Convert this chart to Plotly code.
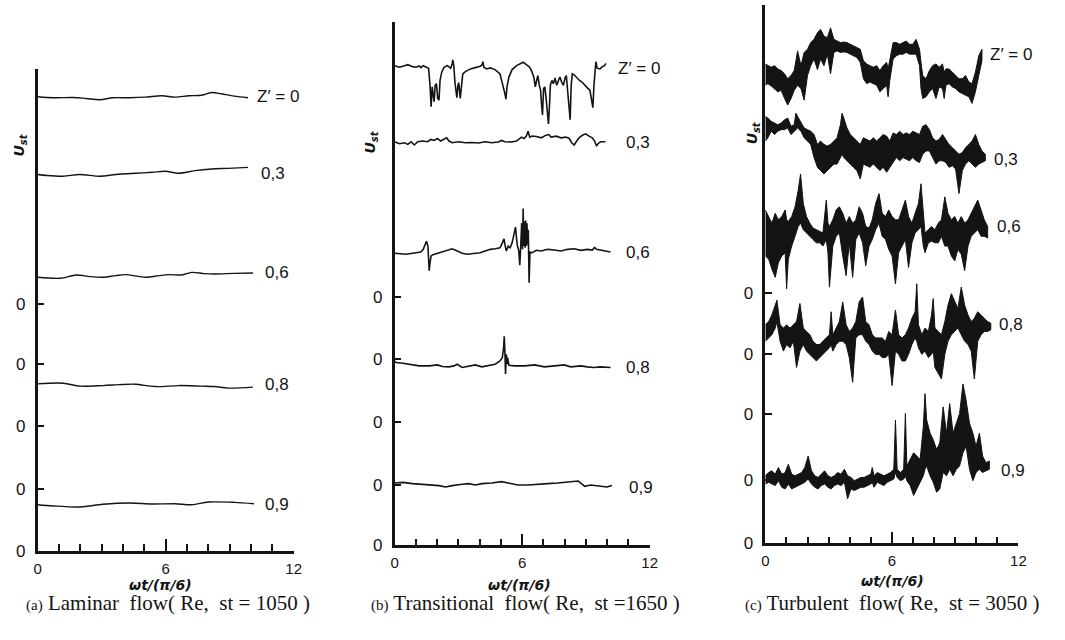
import plotly.graph_objects as go

W, H = 1065, 640

# ---------------- (a) laminar flow : thin traces ----------------
A_Z0_X = [0.00, 0.74, 1.67, 2.27, 2.92, 3.52, 4.30, 5.05, 5.83, 6.44, 7.08, 7.69, 8.15, 8.61, 9.21, 9.86]
A_Z0_Y = [46.17, 46.07, 46.10, 46.00, 45.87, 46.07, 46.07, 46.13, 46.27, 46.13, 46.27, 46.33, 46.60, 46.47, 46.23, 46.07]
A_03_X = [0.00, 0.43, 1.20, 1.97, 2.90, 3.67, 4.60, 5.37, 5.99, 6.60, 7.38, 8.15, 8.92, 9.86]
A_03_Y = [38.27, 38.17, 38.10, 38.27, 38.10, 38.27, 38.40, 38.50, 38.60, 38.40, 38.67, 38.83, 38.90, 39.00]
A_06_X = [0.00, 1.06, 1.81, 2.45, 3.06, 3.66, 4.12, 5.05, 5.69, 6.16, 6.76, 7.22, 7.82, 8.29, 9.21, 10.09]
A_06_Y = [27.83, 27.73, 28.07, 27.90, 27.83, 28.00, 28.10, 27.83, 28.00, 28.10, 28.07, 28.33, 28.20, 28.17, 28.23, 28.27]
A_08_X = [0.00, 1.20, 1.99, 3.06, 3.84, 4.58, 5.51, 6.62, 7.69, 8.29, 8.94, 10.09]
A_08_Y = [17.00, 17.07, 16.77, 16.83, 16.93, 16.97, 16.73, 16.83, 16.77, 16.73, 16.57, 16.67]
A_09_X = [0.00, 0.74, 1.99, 3.06, 4.31, 5.37, 6.44, 7.22, 8.01, 9.21, 10.14]
A_09_Y = [4.73, 4.60, 4.50, 4.77, 4.90, 4.80, 4.83, 4.73, 5.00, 4.97, 4.83]

# ---------------- (b) transitional flow ----------------
B_Z0_X = [0.00, 0.23, 0.47, 0.62, 0.85, 1.01, 1.16, 1.24, 1.35, 1.47, 1.60, 1.67, 1.72, 1.77, 1.81, 1.86,
          1.91, 1.97, 2.03, 2.09, 2.14, 2.22, 2.33, 2.48, 2.64, 2.71, 2.74, 2.79, 2.84, 2.88, 2.93, 2.98,
          3.02, 3.09, 3.15, 3.21, 3.33, 3.57, 3.80, 4.03, 4.11, 4.16, 4.20, 4.34, 4.50, 4.73, 4.96, 5.09,
          5.19, 5.24, 5.29, 5.38, 5.53, 5.74, 5.89, 6.05, 6.20, 6.36, 6.47, 6.56, 6.62, 6.68, 6.74, 6.81,
          6.87, 6.91, 6.96, 7.01, 7.07, 7.13, 7.18, 7.24, 7.29, 7.33, 7.40, 7.47, 7.55, 7.63, 7.71, 7.78,
          7.86, 7.94, 8.02, 8.08, 8.14, 8.20, 8.26, 8.31, 8.36, 8.45, 8.57, 8.70, 8.82, 8.95, 9.07, 9.19,
          9.27, 9.33, 9.38, 9.43, 9.47, 9.53, 9.66, 9.78, 9.88, 9.94]
B_Z0_Y = [48.73, 48.57, 48.73, 48.83, 48.63, 48.57, 48.70, 48.53, 48.73, 48.57, 48.47, 46.73, 44.57, 46.57, 45.90, 45.07,
          46.73, 46.90, 45.40, 45.23, 47.23, 48.07, 48.57, 48.73, 48.47, 48.90, 49.33, 48.67, 47.07, 46.23, 45.47, 46.73,
          47.00, 45.40, 46.73, 47.90, 48.13, 48.40, 48.53, 48.67, 48.80, 49.13, 48.57, 48.40, 48.50, 48.33, 47.90, 46.90,
          45.90, 45.33, 46.57, 47.57, 48.33, 48.73, 48.90, 49.07, 48.83, 48.57, 48.07, 47.47, 46.57, 47.23, 47.73, 46.73,
          46.23, 44.90, 43.73, 46.40, 46.57, 45.40, 44.07, 42.80, 44.73, 46.73, 47.23, 46.90, 47.47, 46.73, 47.23, 47.57,
          47.07, 46.73, 47.47, 47.73, 46.23, 44.73, 43.23, 46.73, 47.90, 47.80, 47.47, 47.23, 47.07, 46.73, 46.47, 46.23,
          45.40, 44.47, 46.73, 48.40, 49.13, 48.47, 48.40, 48.63, 48.73, 48.97]
B_03_X = [0.00, 0.23, 0.47, 0.62, 0.78, 0.93, 1.09, 1.32, 1.55, 1.71, 1.86, 2.02, 2.17, 2.33, 2.45, 2.56,
          2.71, 3.02, 3.33, 3.64, 3.95, 4.26, 4.57, 4.88, 5.04, 5.19, 5.50, 5.74, 5.84, 5.97, 6.09, 6.20,
          6.28, 6.36, 6.47, 6.67, 6.90, 7.13, 7.26, 7.36, 7.60, 7.83, 8.06, 8.22, 8.33, 8.45, 8.57, 8.68,
          8.84, 8.99, 9.15, 9.30, 9.41, 9.50, 9.57, 9.69, 9.92]
B_03_Y = [41.00, 40.80, 40.90, 40.73, 41.00, 40.67, 41.00, 41.07, 41.00, 41.23, 41.13, 41.33, 41.07, 41.23, 41.40, 41.07,
          40.90, 41.00, 40.90, 40.93, 40.87, 41.00, 40.90, 40.97, 41.13, 41.00, 40.97, 41.07, 41.23, 41.47, 41.33, 41.57,
          42.07, 41.47, 41.57, 41.53, 41.40, 41.67, 41.73, 41.47, 41.57, 41.40, 41.47, 41.33, 40.90, 40.67, 41.07, 41.40,
          41.67, 41.80, 41.57, 41.40, 41.07, 40.57, 40.80, 41.00, 41.00]
B_06_X = [0.00, 0.23, 0.54, 0.85, 1.09, 1.24, 1.35, 1.44, 1.50, 1.57, 1.60, 1.63, 1.67, 1.72, 1.81, 2.02,
          2.25, 2.48, 2.71, 2.95, 3.18, 3.41, 3.72, 4.03, 4.26, 4.50, 4.73, 4.96, 5.07, 5.15, 5.19, 5.26,
          5.35, 5.44, 5.53, 5.61, 5.69, 5.74, 5.78, 5.84, 5.89, 5.94, 5.98, 6.02, 6.05, 6.08, 6.11, 6.14,
          6.17, 6.20, 6.23, 6.26, 6.29, 6.33, 6.37, 6.47, 6.67, 6.90, 7.21, 7.52, 7.83, 8.14, 8.45, 8.76,
          9.07, 9.30, 9.41, 9.50, 9.69, 9.92, 10.16]
B_06_Y = [29.67, 29.63, 29.57, 29.67, 29.73, 29.80, 30.07, 30.57, 30.90, 30.40, 29.23, 27.90, 28.73, 29.40, 29.53, 29.67,
          29.90, 30.00, 30.13, 29.90, 29.67, 29.57, 29.67, 29.73, 29.90, 30.07, 30.13, 30.23, 30.73, 31.13, 30.57, 29.90,
          30.40, 30.23, 30.73, 31.40, 32.33, 31.13, 30.40, 30.00, 28.47, 30.57, 32.73, 30.07, 34.23, 30.40, 32.90, 30.23,
          33.00, 30.40, 32.73, 30.57, 32.07, 26.67, 29.80, 29.73, 29.97, 29.90, 30.07, 30.00, 29.90, 30.07, 30.13, 29.97,
          30.07, 30.00, 30.27, 30.07, 30.00, 29.90, 29.80]
B_08_X = [0.00, 0.08, 0.39, 0.78, 1.16, 1.63, 2.02, 2.25, 2.56, 2.79, 2.95, 3.18, 3.49, 3.80, 4.11, 4.42,
          4.73, 4.96, 5.07, 5.13, 5.16, 5.19, 5.22, 5.26, 5.29, 5.32, 5.38, 5.66, 6.12, 6.59, 7.05, 7.52,
          7.98, 8.29, 8.76, 9.07, 9.38, 9.69, 10.16]
B_08_Y = [18.73, 18.57, 18.50, 18.40, 18.23, 18.23, 18.33, 18.17, 18.13, 18.23, 18.40, 18.07, 18.23, 18.33, 18.13, 18.23,
          18.40, 18.73, 19.07, 20.07, 21.23, 19.73, 17.40, 19.40, 18.40, 19.07, 18.30, 18.23, 18.23, 18.33, 18.13, 18.23,
          18.33, 18.13, 18.23, 18.13, 18.07, 18.13, 18.07]
B_09_X = [0.00, 0.39, 0.85, 1.32, 1.78, 2.09, 2.40, 2.71, 3.18, 3.49, 3.80, 4.11, 4.57, 5.04, 5.35, 5.81,
          6.28, 6.74, 7.21, 7.67, 8.14, 8.45, 8.64, 8.76, 8.95, 9.22, 9.69, 10.00, 10.23]
B_09_Y = [6.33, 6.40, 6.27, 6.20, 6.13, 6.07, 5.93, 6.07, 6.20, 6.27, 6.13, 6.27, 6.33, 6.47, 6.33, 6.13,
          6.13, 6.23, 6.27, 6.33, 6.40, 6.47, 6.53, 6.33, 6.00, 6.13, 6.00, 5.93, 6.07]

# ---------------- (c) turbulent flow : upper / lower envelopes of the dark band ----------------
C_Z0_X = [0.00, 0.12, 0.28, 0.44, 0.59, 0.75, 0.91, 1.06, 1.22, 1.37, 1.53, 1.69, 1.84, 2.00, 2.15, 2.31,
          2.47, 2.62, 2.78, 2.94, 3.09, 3.25, 3.40, 3.56, 3.72, 3.87, 4.03, 4.18, 4.34, 4.50, 4.65, 4.81,
          4.96, 5.12, 5.28, 5.43, 5.59, 5.75, 5.82, 5.90, 6.06, 6.21, 6.37, 6.53, 6.68, 6.84, 6.99, 7.15,
          7.31, 7.38, 7.46, 7.62, 7.78, 7.93, 8.09, 8.24, 8.40, 8.48, 8.56, 8.71, 8.87, 9.02, 9.18, 9.34,
          9.49, 9.65, 9.80, 9.96, 10.12, 10.27]
C_Z0_HI = [48.70, 48.53, 48.37, 48.53, 48.20, 48.03, 47.70, 47.20, 47.53, 48.03, 50.03, 48.53, 49.87, 50.20, 50.87, 51.20,
           51.87, 52.20, 51.53, 51.37, 52.37, 51.20, 51.03, 50.87, 50.93, 50.87, 50.70, 50.53, 50.37, 50.20, 49.03, 48.70,
           48.53, 48.37, 48.53, 48.03, 48.53, 48.87, 48.20, 49.20, 50.87, 50.87, 50.70, 50.87, 51.03, 50.70, 50.70, 51.20,
           50.20, 48.87, 47.53, 47.20, 48.03, 48.53, 48.70, 48.37, 48.70, 47.87, 48.20, 48.20, 47.87, 47.53, 47.20, 47.20,
           47.53, 46.87, 46.70, 47.87, 49.53, 50.20]
C_Z0_LO = [46.53, 46.70, 46.47, 46.20, 45.87, 46.03, 45.20, 44.53, 45.20, 46.03, 46.53, 46.20, 45.03, 47.53, 48.53, 49.20,
           48.13, 49.20, 48.53, 49.70, 47.70, 49.87, 50.03, 49.87, 49.93, 49.87, 49.70, 49.53, 49.37, 48.87, 47.20, 46.70,
           46.87, 46.70, 46.53, 45.87, 46.20, 46.53, 45.37, 47.03, 49.20, 49.53, 49.70, 49.70, 49.87, 49.70, 49.70, 49.70,
           48.53, 46.20, 45.20, 45.37, 45.87, 46.20, 45.20, 46.37, 46.20, 45.20, 46.53, 46.70, 46.37, 46.20, 45.87, 45.70,
           45.53, 45.37, 44.70, 45.87, 47.53, 49.03]

C_03_X = [0.00, 0.12, 0.28, 0.44, 0.59, 0.75, 0.91, 1.06, 1.22, 1.37, 1.45, 1.53, 1.69, 1.84, 2.00, 2.15,
          2.31, 2.47, 2.62, 2.78, 2.94, 3.09, 3.25, 3.40, 3.56, 3.64, 3.72, 3.87, 4.03, 4.18, 4.34, 4.50,
          4.65, 4.81, 4.96, 5.12, 5.28, 5.43, 5.59, 5.75, 5.90, 6.06, 6.21, 6.37, 6.53, 6.68, 6.84, 6.99,
          7.15, 7.31, 7.46, 7.62, 7.78, 7.93, 8.09, 8.24, 8.40, 8.56, 8.71, 8.87, 9.02, 9.18, 9.34, 9.49,
          9.65, 9.80, 9.96, 10.12, 10.27, 10.43]
C_03_HI = [43.37, 43.20, 42.87, 42.70, 42.53, 42.70, 43.03, 43.20, 42.37, 42.53, 43.70, 43.37, 42.70, 42.20, 42.03, 41.87,
           41.53, 40.53, 40.87, 40.53, 40.37, 40.53, 40.87, 41.20, 42.53, 43.70, 43.20, 42.20, 41.53, 41.20, 40.87, 40.53,
           41.20, 41.03, 40.87, 41.20, 40.87, 41.20, 41.53, 41.37, 40.87, 41.70, 41.53, 41.87, 41.53, 41.70, 41.53, 41.87,
           41.70, 41.53, 42.37, 42.53, 42.03, 41.20, 40.87, 41.03, 41.53, 41.03, 40.53, 40.20, 39.87, 39.53, 39.70, 40.20,
           40.53, 40.87, 41.53, 40.53, 39.87, 39.53]
C_03_LO = [40.87, 41.20, 41.87, 41.53, 41.87, 42.03, 42.03, 42.20, 41.53, 41.87, 42.03, 42.20, 41.87, 41.20, 40.87, 40.53,
           39.20, 38.20, 37.87, 37.53, 37.87, 38.20, 38.53, 38.53, 39.20, 39.53, 39.20, 38.87, 38.53, 38.20, 37.87, 37.03,
           38.53, 38.37, 38.20, 38.53, 38.20, 37.87, 38.20, 37.70, 38.20, 38.70, 39.20, 38.87, 39.20, 39.03, 38.87, 39.20,
           38.87, 38.70, 39.53, 39.87, 39.87, 39.20, 38.53, 38.87, 38.87, 38.70, 38.20, 38.37, 38.03, 35.53, 37.87, 38.53,
           38.87, 38.53, 38.20, 38.53, 38.70, 38.87]

C_06_X = [0.00, 0.16, 0.31, 0.47, 0.62, 0.78, 0.94, 1.01, 1.09, 1.25, 1.41, 1.56, 1.67, 1.80, 1.95, 2.11,
          2.26, 2.42, 2.58, 2.73, 2.89, 2.97, 3.04, 3.20, 3.36, 3.51, 3.67, 3.83, 3.98, 4.14, 4.29, 4.45,
          4.61, 4.76, 4.92, 5.07, 5.23, 5.39, 5.54, 5.70, 5.85, 6.01, 6.17, 6.32, 6.48, 6.64, 6.79, 6.95,
          7.10, 7.26, 7.38, 7.49, 7.57, 7.73, 7.88, 8.04, 8.20, 8.35, 8.51, 8.66, 8.82, 8.98, 9.13, 9.29,
          9.45, 9.61, 9.76, 9.91, 10.07, 10.23, 10.38, 10.54]
C_06_HI = [33.87, 33.20, 32.53, 33.53, 32.87, 33.20, 33.87, 32.87, 32.70, 33.20, 34.20, 35.87, 37.53, 34.53, 33.20, 32.53,
           32.03, 31.87, 31.70, 31.53, 34.87, 32.53, 32.20, 32.87, 33.87, 34.20, 33.53, 32.53, 33.20, 32.53, 32.87, 34.20,
           33.53, 32.20, 32.03, 32.87, 34.53, 35.53, 33.53, 33.20, 33.87, 33.20, 32.87, 32.87, 33.87, 34.87, 33.20, 32.53,
           33.53, 34.53, 36.53, 33.20, 31.53, 31.87, 32.20, 31.87, 32.53, 32.87, 35.20, 33.53, 32.87, 33.20, 32.53, 33.20,
           32.53, 32.87, 33.53, 34.20, 34.87, 33.87, 32.87, 32.20]
C_06_LO = [29.20, 28.87, 27.87, 27.03, 28.53, 29.20, 29.53, 25.87, 28.87, 30.20, 31.20, 32.20, 32.53, 31.87, 31.53, 31.20,
           30.87, 30.53, 30.53, 30.20, 30.87, 29.53, 26.03, 30.20, 31.20, 31.53, 29.20, 27.20, 30.53, 27.03, 30.87, 31.53,
           30.53, 28.20, 30.20, 30.87, 31.87, 32.53, 31.20, 30.87, 29.87, 29.20, 26.37, 29.53, 30.20, 30.87, 28.03, 30.53,
           31.53, 31.87, 32.20, 30.20, 29.53, 30.53, 30.70, 30.53, 30.53, 31.20, 30.20, 30.20, 29.20, 28.70, 29.87, 29.37,
           27.70, 30.20, 31.20, 31.53, 31.87, 31.20, 31.20, 31.03]

C_08_X = [0.00, 0.16, 0.31, 0.47, 0.55, 0.70, 0.86, 1.01, 1.17, 1.33, 1.48, 1.64, 1.80, 1.95, 2.11, 2.26,
          2.42, 2.58, 2.73, 2.89, 3.04, 3.12, 3.20, 3.36, 3.51, 3.67, 3.83, 3.98, 4.14, 4.29, 4.45, 4.61,
          4.76, 4.92, 5.07, 5.23, 5.39, 5.54, 5.70, 5.85, 6.01, 6.17, 6.32, 6.48, 6.64, 6.79, 6.95, 7.10,
          7.18, 7.26, 7.42, 7.57, 7.73, 7.88, 7.96, 8.04, 8.20, 8.35, 8.51, 8.66, 8.82, 8.98, 9.13, 9.29,
          9.45, 9.61, 9.76, 9.91, 10.07, 10.23, 10.38, 10.54, 10.69]
C_08_HI = [22.20, 22.53, 23.20, 24.20, 24.70, 22.20, 21.87, 22.20, 21.87, 22.20, 22.53, 24.37, 21.87, 21.53, 21.20, 20.53,
           20.20, 20.20, 20.53, 20.87, 21.20, 23.53, 21.20, 21.87, 22.53, 24.53, 22.20, 21.53, 21.87, 22.53, 24.53, 25.03,
           22.53, 22.20, 21.20, 20.87, 20.87, 20.87, 20.53, 21.53, 21.20, 23.70, 21.20, 20.87, 21.20, 21.87, 22.87, 23.53,
           26.37, 22.20, 21.20, 21.87, 21.53, 23.20, 24.87, 21.87, 21.53, 21.20, 22.53, 24.20, 25.37, 24.53, 23.87, 26.03,
           24.20, 23.20, 22.53, 22.87, 23.53, 23.20, 22.87, 22.53, 22.37]
C_08_LO = [20.53, 20.87, 21.20, 21.87, 22.53, 20.53, 19.53, 20.20, 19.87, 20.53, 17.87, 19.53, 20.20, 19.53, 19.20, 18.87,
           18.53, 18.87, 19.20, 19.53, 19.87, 20.20, 19.53, 20.20, 20.53, 20.53, 20.20, 18.87, 16.37, 20.87, 21.20, 21.20,
           20.53, 20.20, 19.53, 19.20, 19.20, 18.87, 18.87, 19.20, 16.03, 19.53, 19.20, 18.53, 18.53, 19.20, 20.20, 20.87,
           20.53, 19.87, 19.20, 19.53, 18.87, 19.20, 19.53, 17.87, 17.20, 16.70, 19.20, 20.53, 21.20, 21.53, 21.87, 21.20,
           20.53, 20.20, 19.53, 16.70, 20.53, 21.20, 21.53, 21.53, 21.70]

C_09_X = [0.00, 0.16, 0.31, 0.47, 0.62, 0.78, 0.94, 1.09, 1.25, 1.41, 1.56, 1.72, 1.87, 2.03, 2.19, 2.34,
          2.50, 2.65, 2.81, 2.97, 3.12, 3.28, 3.43, 3.59, 3.75, 3.90, 4.06, 4.22, 4.37, 4.53, 4.68, 4.84,
          5.00, 5.07, 5.15, 5.31, 5.46, 5.62, 5.78, 5.93, 6.09, 6.17, 6.25, 6.40, 6.56, 6.64, 6.71, 6.87,
          7.03, 7.18, 7.34, 7.49, 7.57, 7.65, 7.81, 7.96, 8.12, 8.27, 8.43, 8.59, 8.74, 8.90, 9.06, 9.21,
          9.37, 9.52, 9.68, 9.84, 9.99, 10.15, 10.30, 10.46, 10.62]
C_09_HI = [6.87, 7.20, 7.37, 7.03, 7.70, 7.03, 7.20, 8.03, 7.03, 6.87, 7.03, 7.20, 7.70, 8.87, 7.37, 6.87,
           6.70, 7.03, 7.37, 6.87, 6.70, 6.87, 7.20, 7.03, 7.53, 6.87, 6.70, 6.37, 6.53, 6.70, 6.70, 6.87,
           7.03, 7.70, 6.87, 7.20, 7.03, 6.87, 7.03, 7.20, 7.53, 12.53, 7.53, 7.20, 7.53, 13.20, 7.87, 8.53,
           9.20, 8.87, 8.53, 11.87, 15.20, 12.53, 11.20, 10.53, 9.53, 10.20, 13.87, 11.20, 14.20, 11.20, 12.20, 13.20,
           16.20, 14.53, 12.20, 11.20, 9.87, 11.20, 8.87, 8.20, 8.37]
C_09_LO = [6.03, 6.20, 6.03, 5.87, 6.37, 5.70, 5.53, 6.03, 5.53, 5.70, 5.87, 6.03, 6.20, 6.53, 6.03, 5.70,
           5.53, 5.87, 6.03, 5.70, 5.53, 5.87, 6.03, 5.87, 6.20, 4.53, 5.53, 5.37, 5.53, 5.70, 5.70, 5.87,
           6.03, 6.20, 5.70, 6.20, 6.03, 5.87, 6.20, 6.37, 6.53, 7.20, 6.70, 6.37, 6.53, 6.87, 6.37, 5.87,
           4.87, 5.53, 6.20, 6.87, 7.53, 7.87, 6.87, 6.20, 5.20, 5.53, 7.20, 6.87, 7.53, 6.87, 7.53, 7.87,
           9.20, 9.87, 7.53, 6.37, 7.20, 7.53, 7.20, 7.37, 7.53]

# ---------------- labels ----------------
SERIES_LABELS = ["Z\u2032 = 0", "0,3", "0,6", "0,8", "0,9"]
X_TICKS = [0, 6, 12]
X_TICK_TEXT = ["0", "6", "12"]
CAPTION_TAGS = ["(a)", "(b)", "(c)"]
CAPTION_TEXTS = [" Laminar  flow( Re,  st = 1050 )",
                 " Transitional  flow( Re,  st =1650 )",
                 " Turbulent  flow( Re,  st = 3050 )"]
A_ZERO_TICKS = [0, 6.3, 12.7, 19.0, 25.1]
B_ZERO_TICKS = [0, 6.13, 12.57, 18.9, 25.23]
C_ZERO_TICKS = [0, 6.4, 13.1, 19.2, 25.4]

INK = "#141414"
fig = go.Figure()


def add_line(x, y, xa, ya, width=1.3, smooth=False):
    fig.add_trace(go.Scatter(
        x=x, y=y, xaxis=xa, yaxis=ya, mode="lines", hoverinfo="skip", showlegend=False,
        line=dict(color=INK, width=width, shape="spline" if smooth else "linear", smoothing=0.9)))


def add_band(x, hi, lo, xa, ya):
    fig.add_trace(go.Scatter(
        x=list(x) + list(x)[::-1], y=list(hi) + list(lo)[::-1], xaxis=xa, yaxis=ya,
        mode="lines", fill="toself", fillcolor=INK, hoverinfo="skip", showlegend=False,
        line=dict(color=INK, width=1)))


# panel (a)
for xs, ys in [(A_Z0_X, A_Z0_Y), (A_03_X, A_03_Y), (A_06_X, A_06_Y), (A_08_X, A_08_Y), (A_09_X, A_09_Y)]:
    add_line(xs, ys, "x", "y", width=1.4, smooth=True)
# panel (b)
for xs, ys in [(B_Z0_X, B_Z0_Y), (B_03_X, B_03_Y), (B_06_X, B_06_Y), (B_08_X, B_08_Y), (B_09_X, B_09_Y)]:
    add_line(xs, ys, "x2", "y2", width=1.6)
# panel (c)
for xs, hi, lo in [(C_Z0_X, C_Z0_HI, C_Z0_LO), (C_03_X, C_03_HI, C_03_LO), (C_06_X, C_06_HI, C_06_LO),
                   (C_08_X, C_08_HI, C_08_LO), (C_09_X, C_09_HI, C_09_LO)]:
    add_band(xs, hi, lo, "x3", "y3")


def px_x(p):
    return p / W


def px_y(p):
    return (H - p) / H


panels = [
    dict(xd=[px_x(34), px_x(293)], yd=[px_y(560), px_y(70)], ytop=49.0, zt=A_ZERO_TICKS),
    dict(xd=[px_x(395), px_x(653)], yd=[px_y(554), px_y(22)], ytop=53.2, zt=B_ZERO_TICKS),
    dict(xd=[px_x(770), px_x(1026)], yd=[px_y(552), px_y(5)], ytop=54.7, zt=C_ZERO_TICKS),
]

tickfont = dict(family="Liberation Sans, Arial, sans-serif", size=15, color=INK)
layout = dict(width=W, height=H, margin=dict(l=0, r=0, t=0, b=0),
              paper_bgcolor="white", plot_bgcolor="white", showlegend=False)
for i, p in enumerate(panels):
    sfx = "" if i == 0 else str(i + 1)
    layout["xaxis" + sfx] = dict(
        domain=p["xd"], range=[0, 12], anchor="y" + sfx, showline=True, linecolor=INK, linewidth=2.6,
        showgrid=False, zeroline=False, ticks="inside", tickmode="array", tickvals=X_TICKS,
        ticktext=X_TICK_TEXT, ticklen=12, tickwidth=2, tickcolor=INK, tickfont=tickfont,
        ticklabelstandoff=2,
        minor=dict(tickmode="linear", tick0=0, dtick=1, ticks="inside", ticklen=7, tickwidth=1.8,
                   tickcolor=INK, showgrid=False),
        fixedrange=True)
    layout["yaxis" + sfx] = dict(
        domain=p["yd"], range=[0, p["ytop"]], anchor="x" + sfx, showline=True, linecolor=INK,
        linewidth=2.6, showgrid=False, zeroline=False, ticks="inside", tickmode="array",
        tickvals=p["zt"], ticktext=["0"] * len(p["zt"]), ticklen=7, tickwidth=2, tickcolor=INK,
        tickfont=dict(family="Liberation Sans, Arial, sans-serif", size=17, color=INK),
        ticklabelstandoff=6, fixedrange=True)
fig.update_layout(**layout)

lab_font = dict(family="Liberation Sans, Arial, sans-serif", size=17, color=INK)
# series labels: (axis suffix, x, y)
LABEL_POS = [
    ("", [(10.2, 46.2), (10.37, 38.4), (10.56, 28.3), (10.56, 16.9), (10.56, 4.7)]),
    ("2", [(10.4, 48.4), (10.79, 40.9), (10.79, 29.7), (10.79, 18.1), (10.93, 5.9)]),
    ("3", [(10.55, 49.7), (10.77, 39.0), (10.91, 32.2), (11.0, 22.2), (11.1, 7.4)]),
]
ann = []
for sfx, pos in LABEL_POS:
    for (lx, ly), txt in zip(pos, SERIES_LABELS):
        ann.append(dict(x=lx, y=ly, xref="x" + sfx, yref="y" + sfx, text=txt, showarrow=False,
                        xanchor="left", yanchor="middle", font=lab_font))

# x-axis titles, y-axis labels and captions
title_pos = [(px_x(158), px_y(594)), (px_x(521), px_y(594)), (px_x(899), px_y(590))]
ulab = [(px_x(16), px_y(148)), (px_x(371), px_y(145)), (px_x(757), px_y(135))]
cap_centers = [px_x(166), px_x(527), px_x(899)]
for i in range(3):
    ann.append(dict(x=title_pos[i][0], y=title_pos[i][1], xref="paper", yref="paper",
                    xanchor="center", yanchor="middle",
                    text="<b><i>\u03c9t/(\u03c0/6)</i></b>", showarrow=False,
                    font=dict(family="DejaVu Sans, sans-serif", size=14, color=INK)))
    ann.append(dict(x=ulab[i][0], y=ulab[i][1], xref="paper", yref="paper", textangle=-90,
                    xanchor="center", yanchor="middle",
                    text="<b><i>U<sub>st</sub></i></b>", showarrow=False,
                    font=dict(family="DejaVu Sans, sans-serif", size=14, color=INK)))
    ann.append(dict(x=cap_centers[i], y=px_y(613), xref="paper", yref="paper",
                    xanchor="center", yanchor="middle",
                    text="<span style='font-size:15px'>" + CAPTION_TAGS[i] + "</span>" + CAPTION_TEXTS[i],
                    showarrow=False,
                    font=dict(family="Liberation Serif, Times New Roman, serif", size=21, color=INK)))
fig.update_layout(annotations=ann)

fig.write_html("out.html", config={"displayModeBar": False})
